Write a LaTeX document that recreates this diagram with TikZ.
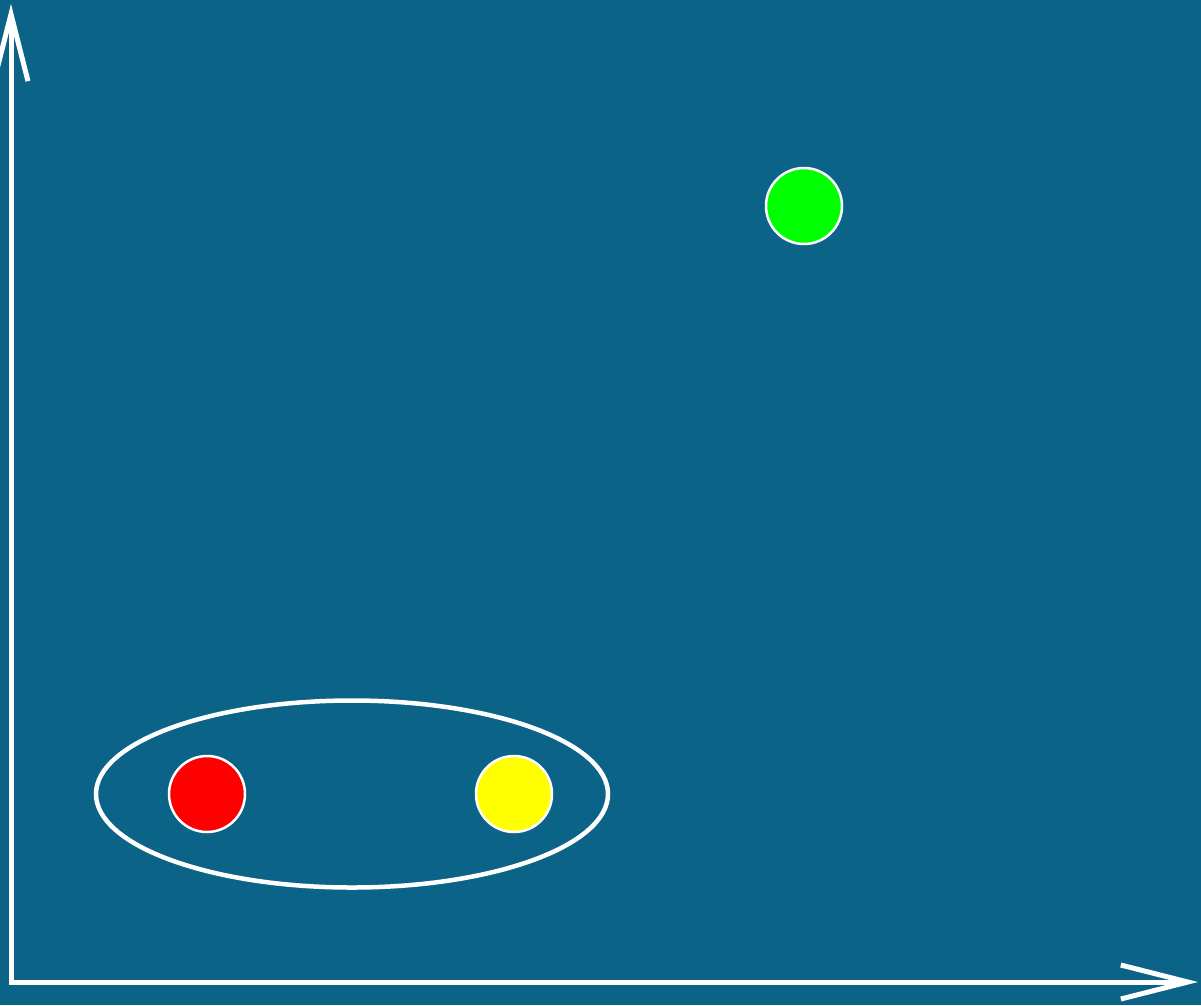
\documentclass[tikz,border=0pt]{standalone}
\usetikzlibrary{arrows.meta,shapes.geometric}
\definecolor{bgblue}{RGB}{11,99,136}
\definecolor{dotred}{RGB}{255,0,0}
\definecolor{dotyellow}{RGB}{255,255,0}
\definecolor{dotgreen}{RGB}{0,255,0}
\tikzset{
  axis/.style={draw=white, line width=5pt, -{Straight Barb[length=67pt,width=34pt,line width=5pt]}},
  dot/.style={circle, draw=white, line width=2.5pt, minimum size=76pt, inner sep=0pt},
  grouping/.style={ellipse, draw=white, line width=4.5pt, minimum width=512pt, minimum height=187pt, inner sep=0pt},
}
\begin{document}
\begin{tikzpicture}[x=1pt,y=-1pt]
\fill[bgblue] (0,0) rectangle (1201,1005);
\useasboundingbox (0,0) rectangle (1201,1005);
\coordinate (ybase) at (11,982);
\coordinate (xbase) at (8.5,982);
\coordinate (ytip) at (11,4);
\coordinate (xtip) at (1198,982);
\draw[axis] (ybase) -- (ytip);
\draw[axis] (xbase) -- (xtip);
\node[grouping] (grp) at (352,794) {};
\node[dot, fill=dotred] (r) at (207,794) {};
\node[dot, fill=dotyellow] (y) at (514,794) {};
\node[dot, fill=dotgreen] (g) at (804,206) {};
\end{tikzpicture}
\end{document}
